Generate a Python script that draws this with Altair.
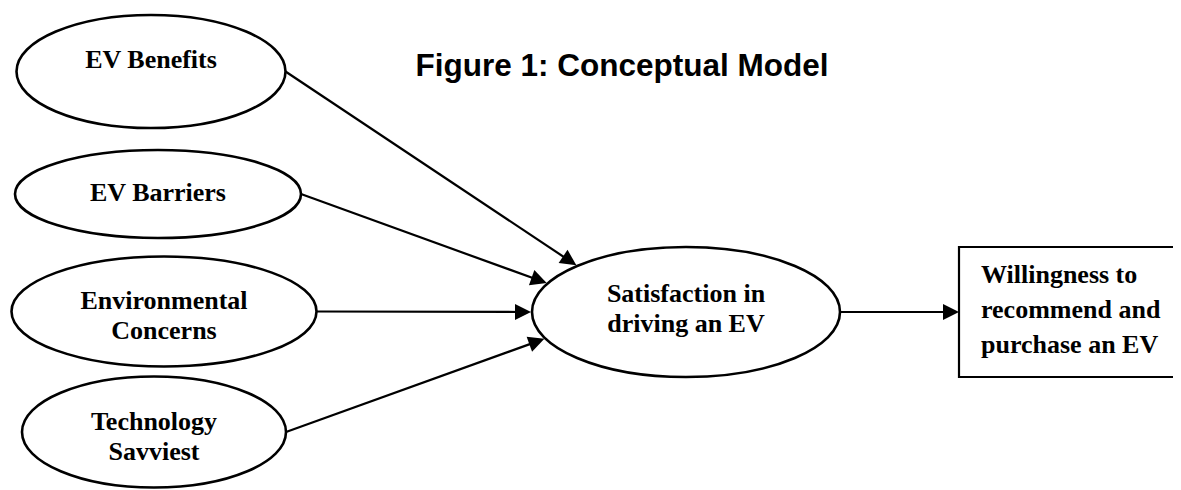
import math
import altair as alt
import pandas as pd

# ---------------- content ----------------
title_text = "Figure 1: Conceptual Model"
construct_labels = [["EV Benefits"], ["EV Barriers"], ["Environmental", "Concerns"], ["Technology", "Savviest"]]
mediator_label = ["Satisfaction in", "driving an EV"]
outcome_label = ["Willingness to", "recommend and", "purchase an EV"]

# ---------------- layout (image pixel coordinates) ----------------
ell_cx = [151, 158, 164, 154, 686]
ell_cy = [71.5, 194, 311.5, 432, 312]
ell_rx = [134.5, 143, 152.5, 132, 154]
ell_ry = [56.5, 44, 55, 55.5, 65]
label_baseline = [68, 201, 309, 430, 302]
line_gap = 30
arrow_end_deg = [225, 206, 180, 156]   # where each construct arrow meets the mediator ellipse
box_x = [959, 1173]   # box runs off the right edge of the figure
box_y = [247, 377]
box_text_x = 981
box_text_baseline = 283
box_line_gap = 35
title_x = 622
title_baseline = 76
head_len = 16

K = 0.5523


def ellipse_path(k):
    a = K * k
    return (f"M -1 0 C -1 {-a:.4f} {-K:.4f} {-k:.4f} 0 {-k:.4f} "
            f"C {K:.4f} {-k:.4f} 1 {-a:.4f} 1 0 "
            f"C 1 {a:.4f} {K:.4f} {k:.4f} 0 {k:.4f} "
            f"C {-K:.4f} {k:.4f} -1 {a:.4f} -1 0 Z")


ids = [f"e{i}" for i in range(len(ell_cx))]
ell_df = pd.DataFrame({
    "id": ids,
    "x": ell_cx,
    "y": ell_cy,
    "size": [(2 * r) ** 2 for r in ell_rx],
})
paths = [ellipse_path(ry / rx) for rx, ry in zip(ell_rx, ell_ry)]

# labels inside ellipses
all_labels = construct_labels + [mediator_label]
lab_rows = []
for i, lines in enumerate(all_labels):
    for j, t in enumerate(lines):
        lab_rows.append({"text": t, "x": ell_cx[i], "y": label_baseline[i] + j * line_gap})
lab_df = pd.DataFrame(lab_rows)

box_lab_df = pd.DataFrame({
    "text": outcome_label,
    "x": [box_text_x] * len(outcome_label),
    "y": [box_text_baseline + j * box_line_gap for j in range(len(outcome_label))],
})

# edges
edges = []
m = 4
for i in range(4):
    sx, sy = ell_cx[i] + ell_rx[i], ell_cy[i]
    t = math.radians(arrow_end_deg[i])
    tx = ell_cx[m] + (ell_rx[m] + 1) * math.cos(t)
    ty = ell_cy[m] + (ell_ry[m] + 1) * math.sin(t)
    edges.append((sx, sy, tx, ty))
edges.append((ell_cx[m] + ell_rx[m], ell_cy[m], box_x[0], ell_cy[m]))

rule_rows, head_rows = [], []
for sx, sy, tx, ty in edges:
    dx, dy = tx - sx, ty - sy
    L = math.hypot(dx, dy)
    ux, uy = dx / L, dy / L
    rule_rows.append({"x": sx, "y": sy, "x2": tx - ux * head_len * 0.6, "y2": ty - uy * head_len * 0.6})
    ang = math.degrees(math.atan2(dy, dx)) % 360
    head_rows.append({"x": tx, "y": ty, "angle": ang})
rule_df = pd.DataFrame(rule_rows)
head_df = pd.DataFrame(head_rows)

# box outline: left, top and bottom sides (right side lies beyond the figure)
box_df = pd.DataFrame({
    "x": [box_x[0], box_x[0], box_x[0]],
    "x2": [box_x[0], box_x[1], box_x[1]],
    "y": [box_y[0] - 1, box_y[0], box_y[1]],
    "y2": [box_y[1] + 1, box_y[0], box_y[1]],
})
title_df = pd.DataFrame({"text": [title_text], "x": [title_x], "y": [title_baseline]})

W, H = 1165, 482
xs = alt.Scale(domain=[8, 8 + W], nice=False, zero=False)
ys = alt.Scale(domain=[8, 8 + H], nice=False, zero=False, reverse=True)
X = lambda f="x": alt.X(f"{f}:Q", scale=xs, axis=None)
Y = lambda f="y": alt.Y(f"{f}:Q", scale=ys, axis=None)

ellipses = alt.Chart(ell_df).mark_point(
    filled=False, color="black", strokeWidth=2.6, opacity=1
).encode(
    x=X(), y=Y(),
    shape=alt.Shape("id:N", scale=alt.Scale(domain=ids, range=paths), legend=None),
    size=alt.Size("size:Q", scale=None),
)

rules = alt.Chart(rule_df).mark_rule(color="black", strokeWidth=2.2).encode(
    x=X(), y=Y(), x2="x2:Q", y2="y2:Q"
)

heads = alt.Chart(head_df).mark_point(
    filled=True, color="black", opacity=1, shape="M 0 0 L -1 -0.5 L -1 0.5 Z",
    size=(2 * head_len) ** 2, strokeWidth=0
).encode(
    x=X(), y=Y(), angle=alt.Angle("angle:Q", scale=None)
)

box = alt.Chart(box_df).mark_rule(color="black", strokeWidth=2.2).encode(
    x=X(), x2="x2:Q", y=Y(), y2="y2:Q"
)

labels = alt.Chart(lab_df).mark_text(
    font="Liberation Serif", fontWeight="bold", fontSize=26, color="black",
    align="center", baseline="alphabetic"
).encode(x=X(), y=Y(), text="text:N")

box_labels = alt.Chart(box_lab_df).mark_text(
    font="Liberation Serif", fontWeight="bold", fontSize=26, color="black",
    align="left", baseline="alphabetic"
).encode(x=X(), y=Y(), text="text:N")

title = alt.Chart(title_df).mark_text(
    font="Liberation Sans", fontWeight="bold", fontSize=31.5, color="black",
    align="center", baseline="alphabetic"
).encode(x=X(), y=Y(), text="text:N")

chart = alt.layer(rules, heads, ellipses, box, labels, box_labels, title).properties(
    width=W, height=H, padding=0,
    autosize=alt.AutoSizeParams(type="none"),
    background="white",
).configure_view(stroke=None)

chart.save("out.html", embed_options={"renderer": "svg", "actions": False})
